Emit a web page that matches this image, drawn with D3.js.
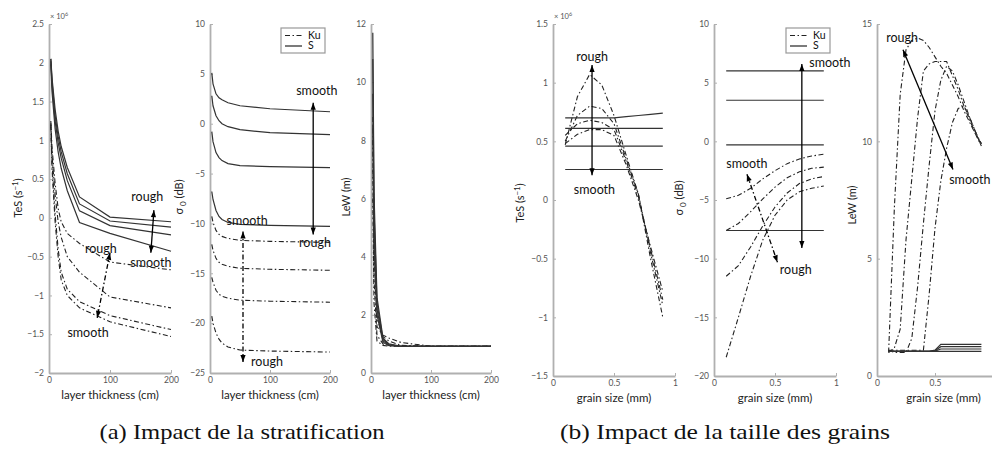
<!DOCTYPE html>
<html><head><meta charset="utf-8">
<script src="https://cdn.jsdelivr.net/npm/d3@7"></script>
<style>body{margin:0;background:#fff}svg{display:block}</style>
</head><body><svg id="c" width="992" height="450"></svg>
<script>
// ---------------- DATA ----------------
const thickX = [3, 5, 10, 15, 20, 30, 50, 100, 200];
const tesThickS = [
  [2.05, 1.80, 1.40, 1.12, 0.92, 0.65, 0.27, 0.01, -0.05],
  [2.05, 1.75, 1.32, 1.05, 0.85, 0.57, 0.18, -0.04, -0.12],
  [2.02, 1.70, 1.25, 0.97, 0.77, 0.48, 0.09, -0.10, -0.22],
  [1.98, 1.62, 1.15, 0.85, 0.64, 0.35, -0.06, -0.20, -0.43]
];
const tesThickKu = [
  [1.25, 0.90, 0.45, 0.12, -0.05, -0.20, -0.33, -0.57, -0.67],
  [1.22, 0.80, 0.30, -0.05, -0.25, -0.50, -0.70, -1.02, -1.16],
  [1.20, 0.70, 0.05, -0.40, -0.70, -0.92, -1.08, -1.26, -1.44],
  [1.18, 0.62, -0.05, -0.50, -0.80, -1.00, -1.16, -1.34, -1.53]
];
const sigThickS = [
  [5.1, 4.0, 3.0, 2.6, 2.4, 2.1, 1.8, 1.5, 1.2],
  [2.8, 1.8, 0.8, 0.3, 0.0, -0.3, -0.6, -0.9, -1.1],
  [-0.8, -1.8, -2.9, -3.4, -3.7, -4.0, -4.2, -4.3, -4.4],
  [-6.8, -7.6, -8.7, -9.3, -9.6, -9.9, -10.1, -10.2, -10.3]
];
const sigThickKu = [
  [-9.3, -9.9, -10.7, -11.1, -11.3, -11.5, -11.7, -11.8, -11.9],
  [-12.1, -12.7, -13.5, -13.9, -14.1, -14.3, -14.5, -14.6, -14.7],
  [-15.4, -15.9, -16.7, -17.1, -17.3, -17.5, -17.7, -17.8, -17.9],
  [-19.3, -20.0, -21.0, -21.6, -22.0, -22.4, -22.7, -22.8, -22.9]
];
const lewThickX = [3, 5, 10, 20, 30, 50, 100, 200];
const lewThickS = [
  [11.7, 6.2, 2.6, 1.20, 1.00, 0.92, 0.92, 0.92],
  [10.8, 5.6, 2.4, 1.15, 0.98, 0.92, 0.92, 0.92],
  [9.6, 5.0, 2.2, 1.10, 0.96, 0.92, 0.92, 0.92],
  [8.5, 4.4, 2.0, 1.05, 0.94, 0.92, 0.92, 0.92]
];
const lewThickKu = [
  [8.8, 5.0, 1.9, 1.25, 1.10, 0.95, 0.92, 0.92],
  [8.0, 4.2, 1.6, 1.30, 1.20, 1.05, 0.92, 0.92],
  [7.0, 3.2, 1.3, 1.00, 0.95, 0.92, 0.92, 0.92],
  [6.0, 2.4, 1.1, 0.95, 0.92, 0.92, 0.92, 0.92]
];
const grainX = [0.1, 0.2, 0.3, 0.4, 0.5, 0.6, 0.7, 0.8, 0.9];
const tesGrainS = [
  [0.70, 0.70, 0.70, 0.70, 0.70, 0.71, 0.72, 0.73, 0.74],
  [0.61, 0.61, 0.61, 0.61, 0.61, 0.61, 0.61, 0.61, 0.61],
  [0.46, 0.46, 0.46, 0.46, 0.46, 0.46, 0.46, 0.46, 0.46],
  [0.26, 0.26, 0.26, 0.26, 0.26, 0.26, 0.26, 0.26, 0.26]
];
const tesGrainKu = [
  [0.47, 0.88, 1.07, 0.98, 0.72, 0.38, 0.05, -0.50, -1.00],
  [0.50, 0.72, 0.80, 0.78, 0.65, 0.35, 0.05, -0.45, -0.90],
  [0.55, 0.65, 0.68, 0.66, 0.60, 0.33, 0.03, -0.42, -0.85],
  [0.48, 0.56, 0.60, 0.60, 0.55, 0.30, 0.00, -0.40, -0.78]
];
const sigGrainS = [
  [6.0, 6.0, 6.0, 6.0, 6.0, 6.0, 6.0, 6.0, 6.0],
  [3.5, 3.5, 3.5, 3.5, 3.5, 3.5, 3.5, 3.5, 3.5],
  [-0.3, -0.3, -0.3, -0.3, -0.3, -0.3, -0.3, -0.3, -0.3],
  [-7.6, -7.6, -7.6, -7.6, -7.6, -7.6, -7.6, -7.6, -7.6]
];
const sigGrainKu = [
  [-4.9, -4.6, -4.0, -3.2, -2.5, -1.9, -1.5, -1.25, -1.1],
  [-7.6, -7.0, -6.0, -4.9, -3.9, -3.1, -2.6, -2.3, -2.2],
  [-11.5, -10.6, -9.0, -7.2, -5.6, -4.4, -3.6, -3.2, -3.0],
  [-18.4, -15.0, -11.5, -8.4, -6.3, -5.0, -4.3, -4.0, -3.8]
];
const lewGrainX = [0.1, 0.15, 0.2, 0.25, 0.3, 0.35, 0.4, 0.45, 0.5, 0.55, 0.6, 0.65, 0.7, 0.75, 0.8, 0.85, 0.9];
const lewGrainS = [
  [1.05, 1.05, 1.05, 1.05, 1.05, 1.05, 1.05, 1.05, 1.10, 1.35, 1.35, 1.35, 1.35, 1.35, 1.35, 1.35, 1.35],
  [1.05, 1.05, 1.05, 1.05, 1.05, 1.05, 1.05, 1.05, 1.08, 1.25, 1.25, 1.25, 1.25, 1.25, 1.25, 1.25, 1.25],
  [1.05, 1.05, 1.05, 1.05, 1.05, 1.05, 1.05, 1.05, 1.06, 1.15, 1.15, 1.15, 1.15, 1.15, 1.15, 1.15, 1.15],
  [1.05, 1.05, 1.05, 1.05, 1.05, 1.05, 1.05, 1.05, 1.05, 1.05, 1.05, 1.05, 1.05, 1.05, 1.05, 1.05, 1.05]
];
const lewGrainKu = [
  [1.0, 7.2, 12.0, 13.9, 14.3, 14.4, 14.3, 14.0, 13.6, 13.2, 12.9, 12.4, 11.9, 11.3, 10.8, 10.3, 9.9],
  [1.0, 1.2, 2.0, 5.8, 8.4, 11.0, 13.0, 13.3, 13.4, 13.4, 13.4, 12.8, 12.2, 11.5, 10.9, 10.3, 9.8],
  [1.1, 1.0, 1.0, 1.0, 1.6, 3.8, 6.5, 9.0, 11.3, 12.6, 13.2, 13.0, 12.4, 11.7, 11.0, 10.4, 9.9],
  [1.1, 1.1, 1.1, 1.1, 1.1, 1.1, 1.1, 3.5, 6.3, 8.3, 9.7, 10.8, 11.4, 11.5, 11.0, 10.4, 9.8]
];
const thickTicks = [0, 100, 200];
const grainTicks = [0, 0.5, 1];
const grainTicksLast = [0, 0.5];
const tesThickTicks = [-2, -1.5, -1, -0.5, 0, 0.5, 1, 1.5, 2, 2.5];
const sigThickTicks = [-25, -20, -15, -10, -5, 0, 5, 10];
const lewThickTicks = [0, 2, 4, 6, 8, 10, 12];
const tesGrainTicks = [-1.5, -1, -0.5, 0, 0.5, 1, 1.5];
const sigGrainTicks = [-20, -15, -10, -5, 0, 5, 10];
const lewGrainTicks = [0, 5, 10, 15];
const legendLabels = ["Ku", "S"];
const captions = ["(a) Impact de la stratification", "(b) Impact de la taille des grains"];
const xLabels = ["layer thickness (cm)", "grain size (mm)"];

// annotations (data coordinates)
const ann1 = {arrows: [[172, 0.10, 167, -0.45, 0], [100, -0.45, 79, -1.29, 1]],
  labels: [[161, 0.27, "rough"], [167, -0.58, "smooth"], [85, -0.39, "rough"], [64, -1.48, "smooth"]]};
const ann2 = {arrows: [[172, 2.1, 172, -11.1, 0], [55, -10.8, 55, -23.9, 1]],
  labels: [[178, 3.3, "smooth"], [175, -11.9, "rough"], [62, -9.7, "smooth"], [95, -23.9, "rough"]]};
const ann4 = {arrows: [[0.32, 1.15, 0.32, 0.21, 0]],
  labels: [[0.32, 1.22, "rough"], [0.34, 0.085, "smooth"]]};
const ann5 = {arrows: [[0.72, 6.6, 0.72, -9.1, 0], [0.27, -2.8, 0.52, -10.3, 1]],
  labels: [[0.95, 6.7, "smooth"], [0.67, -10.9, "rough"], [0.27, -1.9, "smooth"]]};
const ann6 = {arrows: [[0.224, 13.9, 0.655, 8.8, 0]],
  labels: [[0.216, 14.4, "rough"], [0.80, 8.35, "smooth"]]};

// ---------------- DRAW ----------------
const svg = d3.select('#c');
const FONT = 'Lato, "Noto Sans", sans-serif';
const KU_DASH = '5,2.5,1.5,2.5';
const fmt = d => (d < 0 ? '\u2212' : '') + String(Math.abs(d));

function arrowHead(g, x1, y1, x2, y2) {
  const a = Math.atan2(y2 - y1, x2 - x1), L = 7, w = 2.6;
  const bx = x2 - L * Math.cos(a), by = y2 - L * Math.sin(a);
  const px = -Math.sin(a) * w, py = Math.cos(a) * w;
  g.append('path').attr('d', `M${x2},${y2}L${bx + px},${by + py}L${bx - px},${by - py}Z`).attr('fill', '#000');
}

function panel(cfg) {
  const x = d3.scaleLinear().domain(cfg.xDomain).range([cfg.left, cfg.right]);
  const y = d3.scaleLinear().domain(cfg.yDomain).range([cfg.bottom, cfg.top]);
  const g = svg.append('g');
  const ay = g.append('g').attr('transform', `translate(${cfg.left},0)`)
    .call(d3.axisLeft(y).tickValues(cfg.yTicks).tickSize(-3).tickSizeOuter(0).tickPadding(5).tickFormat(fmt));
  const axx = g.append('g').attr('transform', `translate(0,${cfg.bottom})`)
    .call(d3.axisBottom(x).tickValues(cfg.xTicks).tickSize(-3).tickSizeOuter(0).tickPadding(4).tickFormat(fmt));
  [ay, axx].forEach(a => {
    a.select('.domain').attr('stroke', '#b0b0b0').attr('stroke-width', 1.8);
    a.selectAll('.tick line').attr('stroke', '#b0b0b0').attr('stroke-width', 1);
    a.selectAll('.tick text').attr('fill', '#555').attr('font-size', 8.5).attr('font-family', FONT);
  });
  const line = xs => d3.line().x((d, i) => x(xs[i])).y(d => y(d));
  cfg.ku.forEach(s => g.append('path').attr('d', line(cfg.xs)(s)).attr('fill', 'none')
    .attr('stroke', '#222').attr('stroke-width', 1.1).attr('stroke-dasharray', KU_DASH));
  cfg.s.forEach(s => g.append('path').attr('d', line(cfg.xs)(s)).attr('fill', 'none')
    .attr('stroke', '#333').attr('stroke-width', 1.2));
  // x label
  g.append('text').attr('x', (cfg.left + Math.min(cfg.right, 990)) / 2 + (cfg.xlabShift || 0)).attr('y', cfg.bottom + 26)
    .attr('text-anchor', 'middle').attr('font-family', FONT).attr('font-size', 11.5).attr('fill', '#222').text(cfg.xlabel);
  // y label
  const yl = g.append('text').attr('transform', `translate(${cfg.ylabX},${cfg.ylabY}) rotate(-90)`)
    .attr('text-anchor', 'middle').attr('font-family', FONT).attr('font-size', 11).attr('fill', '#222');
  cfg.ylab(yl);
  if (cfg.expo) {
    const t = g.append('text').attr('x', cfg.left + 1).attr('y', cfg.top - 5).attr('font-family', FONT)
      .attr('font-size', 7.5).attr('fill', '#555');
    t.append('tspan').text('\u00d7 10');
    t.append('tspan').attr('dy', -3).attr('font-size', 5.5).text('6');
  }
  if (cfg.ann) {
    cfg.ann.arrows.forEach(([a, b, c, d, dash]) => {
      const X1 = x(a), Y1 = y(b), X2 = x(c), Y2 = y(d);
      g.append('line').attr('x1', X1).attr('y1', Y1).attr('x2', X2).attr('y2', Y2)
        .attr('stroke', '#000').attr('stroke-width', 1.3).attr('stroke-dasharray', dash ? KU_DASH : null);
      arrowHead(g, X2, Y2, X1, Y1);
      arrowHead(g, X1, Y1, X2, Y2);
    });
    cfg.ann.labels.forEach(([a, b, t]) => g.append('text').attr('x', x(a)).attr('y', y(b))
      .attr('dy', '0.35em').attr('text-anchor', 'middle').attr('font-family', FONT)
      .attr('font-size', 12.5).attr('fill', '#111').text(t));
  }
  if (cfg.legend) {
    const [lx, ly] = cfg.legend;
    const lg = g.append('g').attr('transform', `translate(${lx},${ly})`);
    lg.append('rect').attr('width', 44).attr('height', 25).attr('fill', '#fff').attr('stroke', '#999').attr('stroke-width', 1.2);
    legendLabels.forEach((lab, i) => {
      lg.append('line').attr('x1', 4).attr('x2', 21).attr('y1', 7.5 + i * 10.5).attr('y2', 7.5 + i * 10.5)
        .attr('stroke', '#222').attr('stroke-width', 1.2).attr('stroke-dasharray', i === 0 ? KU_DASH : null);
      lg.append('text').attr('x', 27).attr('y', 7.5 + i * 10.5).attr('dy', '0.33em').attr('font-family', FONT)
        .attr('font-size', 10.5).attr('fill', '#111').text(lab);
    });
  }
}

const tesLab = t => { t.append('tspan').text('TeS (s'); t.append('tspan').attr('dy', -4).attr('font-size', 8).text('\u22121'); t.append('tspan').attr('dy', 4).text(')'); };
const sigLab = t => { t.append('tspan').text('\u03c3'); t.append('tspan').attr('dy', 3).attr('font-size', 8).text(' 0'); t.append('tspan').attr('dy', -3).text(' (dB)'); };
const lewLab = t => t.text('LeW (m)');

panel({xDomain: [0, 200], yDomain: [-2, 2.5], left: 49, right: 171, top: 24, bottom: 373, xs: thickX,
  s: tesThickS, ku: tesThickKu, xTicks: thickTicks, yTicks: tesThickTicks, xlabel: xLabels[0],
  ylab: tesLab, ylabX: 22, ylabY: 198, expo: true, ann: ann1});
panel({xDomain: [0, 200], yDomain: [-25, 10], left: 210, right: 330, top: 24, bottom: 373, xs: thickX,
  s: sigThickS, ku: sigThickKu, xTicks: thickTicks, yTicks: sigThickTicks, xlabel: xLabels[0],
  ylab: sigLab, ylabX: 183, ylabY: 197, ann: ann2, legend: [281, 28]});
panel({xDomain: [0, 200], yDomain: [0, 12], left: 371, right: 491, top: 24, bottom: 373, xs: lewThickX,
  s: lewThickS, ku: lewThickKu, xTicks: thickTicks, yTicks: lewThickTicks, xlabel: xLabels[0],
  ylab: lewLab, ylabX: 350, ylabY: 197});
panel({xDomain: [0, 1], yDomain: [-1.5, 1.5], left: 553, right: 675, top: 24, bottom: 376, xs: grainX,
  s: tesGrainS, ku: tesGrainKu, xTicks: grainTicks, yTicks: tesGrainTicks, xlabel: xLabels[1],
  ylab: tesLab, ylabX: 524, ylabY: 203, expo: true, ann: ann4});
panel({xDomain: [0, 1], yDomain: [-20, 10], left: 714, right: 836, top: 24, bottom: 376, xs: grainX,
  s: sigGrainS, ku: sigGrainKu, xTicks: grainTicks, yTicks: sigGrainTicks, xlabel: xLabels[1],
  ylab: sigLab, ylabX: 683, ylabY: 198, ann: ann5, legend: [786, 28]});
panel({xDomain: [0, 1], yDomain: [0, 15], left: 877, right: 993, top: 24, bottom: 376, xs: lewGrainX,
  s: lewGrainS, ku: lewGrainKu, xTicks: grainTicksLast, yTicks: lewGrainTicks, xlabel: xLabels[1],
  ylab: lewLab, ylabX: 856, ylabY: 205, ann: ann6, xlabShift: 10});

// captions
[[242, 285, captions[0]], [725, 330, captions[1]]].forEach(([cx, w, t]) =>
  svg.append('text').attr('x', cx).attr('y', 439).attr('text-anchor', 'middle')
    .attr('textLength', w).attr('lengthAdjust', 'spacingAndGlyphs')
    .attr('font-family', '"Liberation Serif", "DejaVu Serif", serif').attr('font-size', 22).attr('fill', '#111').text(t));
</script>
</body></html>
